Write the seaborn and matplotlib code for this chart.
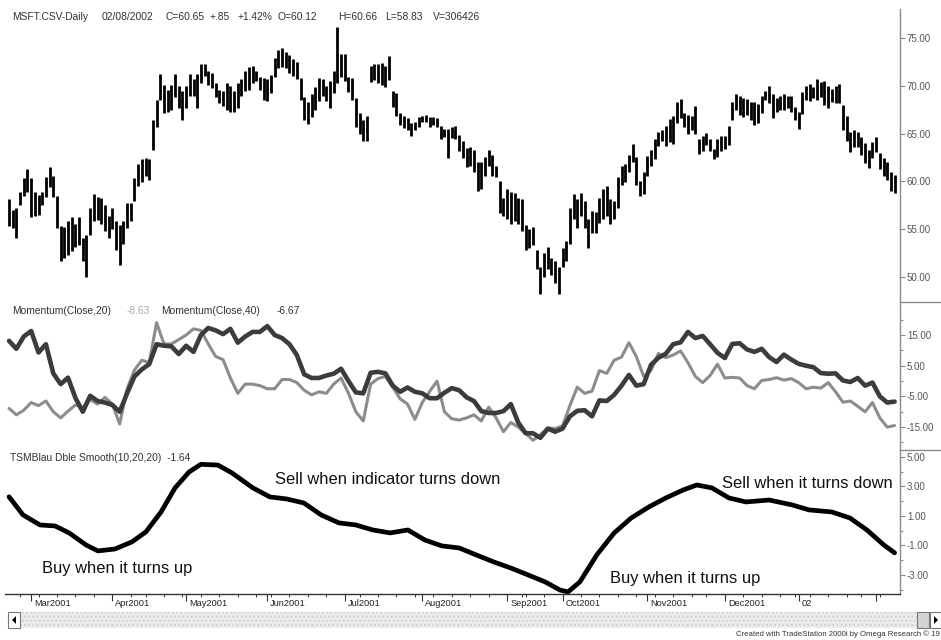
import numpy as np
import pandas as pd
import matplotlib
matplotlib.use("Agg")
import matplotlib.pyplot as plt
import seaborn as sns
from matplotlib import font_manager as fm
from matplotlib.lines import Line2D
from matplotlib.patches import Rectangle, Polygon
import matplotlib.transforms as mtransforms

sns.set_style("white")
names = {f.name for f in fm.fontManager.ttflist}
NARROW = "Liberation Sans Narrow" if "Liberation Sans Narrow" in names else "Liberation Sans"
HAS_NARROW = NARROW == "Liberation Sans Narrow"
plt.rcParams["font.family"] = ["Liberation Sans", "DejaVu Sans"]

# ---------------- data ----------------
start_date = "2001-02-21"
end_date = "2002-02-08"
holidays = ["2001-04-13", "2001-05-28", "2001-07-04", "2001-09-03", "2001-09-11",
            "2001-09-12", "2001-09-13", "2001-09-14", "2001-11-22", "2001-12-25",
            "2002-01-01", "2002-01-21"]

highs = [
    58.2, 57.0, 57.2, 58.9, 60.3, 61.3, 60.3, 58.9, 58.6, 58.9,
    60.5, 61.5, 60.6, 58.5, 55.3, 55.2, 55.8, 56.3, 55.5, 56.3,
    54.1, 54.4, 57.2, 58.7, 58.4, 58.3, 57.5, 56.4, 57.2, 55.8,
    55.4, 55.8, 57.7, 57.7, 60.3, 61.8, 62.3, 62.4, 62.3, 66.4,
    68.5, 71.3, 70.1, 69.6, 70.1, 71.3, 70.0, 69.5, 70.0, 71.3,
    70.7, 71.3, 72.3, 72.3, 71.6, 71.4, 70.3, 69.6, 69.5, 70.3,
    70.0, 69.5, 70.3, 70.7, 71.6, 72.0, 72.1, 71.6, 70.9, 70.8,
    70.7, 71.1, 72.9, 73.8, 74.0, 73.6, 73.2, 72.8, 72.5, 70.8,
    68.8, 68.3, 69.2, 69.9, 70.8, 70.7, 70.0, 70.5, 71.6, 76.2,
    73.4, 73.3, 70.9, 70.8, 68.7, 67.2, 66.4, 66.9, 72.1, 72.3,
    72.3, 72.4, 72.1, 73.1, 69.5, 69.3, 67.2, 66.9, 66.6, 66.1,
    66.2, 66.7, 66.9, 67.0, 66.7, 66.7, 66.6, 65.8, 65.5, 65.5,
    65.7, 65.8, 64.9, 64.2, 63.5, 63.6, 63.3, 62.0, 62.0, 62.6,
    63.3, 62.8, 61.6, 60.0, 58.3, 59.2, 58.9, 58.8, 58.3, 58.2,
    55.4, 55.0, 55.2, 52.8, 51.0, 52.5, 53.1, 52.0, 51.6, 51.0,
    53.0, 53.7, 57.2, 58.7, 58.2, 58.8, 57.9, 56.1, 56.9, 56.8,
    58.3, 59.2, 59.5, 58.2, 57.9, 60.5, 61.6, 61.8, 62.8, 63.9,
    62.6, 60.0, 61.0, 62.7, 63.3, 64.4, 65.2, 65.4, 65.8, 66.5,
    66.8, 68.3, 68.6, 67.2, 67.0, 66.9, 67.9, 64.4, 64.8, 65.1,
    64.4, 63.4, 64.4, 64.8, 64.8, 65.8, 68.3, 69.2, 68.9, 68.7,
    68.6, 68.3, 68.3, 68.1, 69.0, 69.5, 70.0, 69.2, 68.7, 68.9,
    69.2, 69.0, 68.9, 67.8, 67.3, 69.4, 70.0, 70.2, 69.9, 70.7,
    70.4, 70.5, 70.0, 69.7, 70.0, 70.2, 68.0, 66.8, 65.2, 65.4,
    65.2, 64.7, 64.0, 63.3, 64.1, 64.6, 63.0, 62.5, 62.0, 61.0,
    60.66,
]
lows = [
    55.3, 55.1, 54.1, 57.5, 58.5, 58.9, 56.3, 56.4, 56.5, 57.5,
    58.4, 59.4, 58.4, 55.1, 51.7, 52.0, 52.3, 52.7, 53.1, 53.3,
    51.7, 50.0, 54.4, 55.8, 55.9, 55.5, 54.8, 54.1, 55.0, 52.8,
    51.2, 53.4, 55.1, 55.8, 57.9, 59.5, 59.9, 60.6, 60.1, 63.3,
    65.7, 68.5, 67.2, 67.3, 67.5, 68.8, 67.7, 66.4, 67.7, 69.0,
    69.0, 67.7, 70.3, 71.0, 70.1, 69.8, 68.8, 68.2, 67.9, 67.5,
    67.3, 67.3, 67.7, 69.0, 69.5, 69.6, 70.3, 70.5, 69.6, 68.5,
    68.4, 69.3, 70.9, 71.9, 72.0, 71.9, 71.4, 71.0, 70.7, 68.5,
    66.4, 66.0, 66.7, 67.5, 68.4, 69.0, 68.4, 67.7, 69.3, 70.3,
    70.9, 70.5, 69.4, 68.5, 65.7, 65.0, 64.2, 64.2, 70.4, 70.6,
    70.3, 70.1, 69.9, 70.6, 67.8, 66.8, 65.9, 65.6, 65.4, 64.8,
    65.4, 65.7, 66.2, 66.2, 65.7, 65.9, 65.7, 64.4, 64.7, 62.4,
    64.5, 64.4, 63.2, 62.4, 61.5, 61.6, 61.0, 59.0, 59.2, 60.6,
    61.6, 60.6, 60.5, 56.7, 56.4, 56.1, 55.5, 55.8, 55.5, 54.8,
    52.8, 53.0, 53.3, 50.8, 48.2, 50.0, 50.8, 50.2, 49.3, 48.2,
    51.0, 51.6, 53.4, 56.1, 55.1, 56.4, 55.1, 53.0, 54.6, 54.6,
    55.6, 56.1, 56.4, 55.5, 56.1, 57.2, 59.6, 59.9, 61.0, 62.0,
    59.6, 58.5, 58.7, 60.6, 61.6, 62.3, 63.7, 64.2, 63.7, 64.1,
    63.9, 66.1, 66.6, 65.7, 65.0, 65.4, 65.0, 62.9, 63.2, 63.8,
    63.2, 62.3, 62.6, 63.2, 63.4, 63.8, 66.4, 67.5, 67.0, 66.7,
    67.0, 66.4, 65.9, 66.1, 67.2, 68.5, 68.2, 66.6, 67.3, 67.5,
    67.5, 67.7, 67.3, 66.4, 65.5, 67.1, 68.5, 68.4, 68.7, 68.5,
    68.8, 68.0, 67.7, 68.3, 68.2, 68.2, 65.4, 64.2, 63.1, 63.6,
    63.6, 62.8, 61.9, 61.4, 62.4, 63.1, 61.3, 60.6, 60.1, 59.0,
    58.83,
]

# momentum readings, every second trading day (bar 0, 2, 4, ... 240)
mom_bars = list(range(0, 241, 2))
mom20 = [
    -8.9, -11.0, -9.5, -7.0, -8.0, -6.5, -10.0, -12.0, -9.8, -7.8,
    -8.5, -6.0, -7.5, -5.3, -7.5, -14.0, -2.5, 3.6, 6.8, 6.0,
    19.0, 12.1, 12.1, 13.5, 15.0, 17.0, 16.5, 12.1, 8.0, 7.0,
    1.0, -4.0, -1.0, -1.0, -1.5, -2.5, -2.5, 0.5, 0.5, -0.5,
    -3.0, -4.5, -3.5, -4.0, -1.0, 1.0, -4.0, -10.0, -13.0, -1.0,
    0.8, 1.5, -2.0, -5.8, -7.5, -12.5, -7.0, -3.4, 0.0, -10.0,
    -12.3, -12.7, -12.0, -11.0, -13.0, -8.5, -12.0, -16.5, -13.5, -15.0,
    -17.0, -19.3, -17.5, -15.3, -15.5, -14.6, -8.0, -2.0, -4.0, -3.3,
    3.4, 2.5, 6.8, 7.8, 12.5, 8.0, 1.5, 3.5, 9.0, 7.6,
    8.5, 9.8, 6.0, 1.5, -0.5, 1.8, 5.5, 1.0, 1.2, 1.0,
    -1.5, -2.5, 0.2, 0.5, 1.1, 0.3, 0.8, -0.5, -2.5, -2.0,
    -2.3, -0.5, -3.5, -6.9, -6.5, -8.2, -10.0, -7.0, -12.0, -15.0,
    -14.5,
]
mom40 = [
    13.1, 10.5, 14.5, 16.3, 9.3, 12.0, 2.5, -1.0, 1.1, -5.5,
    -10.0, -4.8, -6.5, -7.0, -7.8, -10.0, -4.0, 1.5, 3.8, 5.5,
    12.0, 11.5, 11.3, 8.8, 11.5, 9.5, 15.0, 17.3, 16.5, 15.3,
    17.0, 12.5, 14.5, 16.0, 16.0, 17.9, 15.0, 14.0, 12.0, 8.5,
    2.2, 1.0, 1.0, 1.8, 2.4, 4.0, 0.0, -3.7, -4.0, 2.7,
    3.0, 2.5, -1.5, -3.5, -2.1, -3.5, -4.0, -5.6, -5.6, -3.8,
    -2.3, -3.0, -5.3, -6.5, -9.8, -10.4, -10.4, -9.8, -7.5, -13.5,
    -17.0, -17.0, -18.5, -15.5, -16.5, -15.5, -11.5, -9.7, -9.5, -11.5,
    -6.3, -6.5, -4.5, -1.5, 2.0, -1.5, -1.0, 5.3, 7.6, 8.9,
    12.0, 12.6, 16.0, 14.0, 14.7, 12.0, 9.2, 7.5, 12.1, 12.3,
    10.3, 9.5, 10.5, 7.8, 6.2, 8.6, 7.0, 5.6, 5.0, 4.5,
    2.6, 2.4, 2.5, 0.2, -0.3, 1.0, -1.5, -0.5, -5.0, -7.0,
    -6.7,
]

# TSM Blau double smoothed indicator readings (trading-day position, value)
ind_bars = [0, 3.8, 8.4, 12.5, 16.3, 20.9, 24.1, 28.7, 33.3, 37.1,
            41.2, 45.0, 48.8, 52.0, 56.6, 60.4, 66.1, 70.7, 75.3, 79.9,
            84.6, 89.4, 94.0, 98.6, 103.3, 108.1, 112.7, 117.3, 122.0, 126.6,
            131.4, 136.0, 140.7, 145.3, 149.3, 151.5, 154.7, 159.3, 164.0, 168.6,
            173.4, 178.0, 182.7, 186.4, 190.5, 195.1, 199.7, 206.0, 212.2, 216.8,
            223.0, 227.9, 232.5, 237.1, 240]
ind_vals = [2.3, 1.07, 0.39, 0.32, -0.15, -0.97, -1.37, -1.24, -0.76, -0.08,
            1.27, 2.9, 3.98, 4.5, 4.45, 3.92, 2.9, 2.29, 2.15, 1.88,
            1.07, 0.53, 0.39, 0.05, -0.15, 0.05, -0.63, -1.03, -1.17, -1.64,
            -2.12, -2.53, -3.0, -3.47, -4.02, -4.15, -3.47, -1.64, -0.15, 0.86,
            1.61, 2.22, 2.76, 3.1, 2.9, 2.22, 1.95, 2.08, 1.75, 1.41,
            1.27, 0.86, 0.05, -0.97, -1.5]

month_labels = ["Mar2001", "Apr2001", "May2001", "Jun2001", "Jul2001", "Aug2001",
                "Sep2001", "Oct2001", "Nov2001", "Dec2001", "02", ""]
price_ticks = [50, 55, 60, 65, 70, 75]
mom_ticks = [15, 5, -5, -15]
mom_minor = [20, 10, 0, -10, -20]
ind_ticks = [5, 3, 1, -1, -3]
ind_minor = [4, 2, 0, -2, -4]

header_price = [("MSFT.CSV-Daily", 12), ("02/08/2002", 102), ("C=60.65", 165), ("+.85", 209),
                ("+1.42%", 237), ("O=60.12", 277), ("H=60.66", 338), ("L=58.83", 385),
                ("V=306426", 433)]

# ---------------- layout helpers ----------------
W, H = 941, 640
fig = plt.figure(figsize=(W / 100, H / 100), dpi=100)
fig.patch.set_facecolor("white")


def fx(px):
    return px / W


def fy(py):
    return 1 - py / H


LPX, RPX = 5, 900
X0, PX_PER_BAR = 9, 3.69
xlim = ((LPX - X0) / PX_PER_BAR, (RPX - X0) / PX_PER_BAR)

HEAD_FS = 7.4
ANN_FS = 14.0 if HAS_NARROW else 11.9
DATE_FS = 7.6 if HAS_NARROW else 6.7
CRED_FS = 6.8 if HAS_NARROW else 5.6


def make_ax(top, bottom):
    ax = fig.add_axes([fx(LPX), fy(bottom), fx(RPX) - fx(LPX), (bottom - top) / H])
    ax.set_facecolor("white")
    for s in ["top", "left", "bottom"]:
        ax.spines[s].set_visible(False)
    ax.spines["right"].set_color("#8a8a8a")
    ax.spines["right"].set_linewidth(1.0)
    ax.yaxis.tick_right()
    ax.tick_params(axis="y", which="major", direction="out", length=3.5, width=0.8,
                   colors="#8a8a8a", labelcolor="#555555", labelsize=7, pad=1.5)
    ax.tick_params(axis="y", which="minor", direction="out", length=2.5, width=0.8,
                   colors="#8a8a8a")
    ax.tick_params(axis="x", which="both", bottom=False, labelbottom=False)
    ax.set_xlim(*xlim)
    ax.grid(False)
    return ax


dates = pd.bdate_range(start_date, end_date, freq="C", holidays=holidays)
n = min(len(dates), len(highs), len(lows))
bars = np.arange(n)

# ---------------- price panel ----------------
axp = make_ax(9, 302)
axp.vlines(bars, np.array(lows[:n]), np.array(highs[:n]), color="black", linewidth=2.0)
axp.set_ylim(47.35, 78.07)
axp.set_yticks(price_ticks)
axp.set_yticklabels([f"{t:.2f}" for t in price_ticks])

# ---------------- momentum panel ----------------
axm = make_ax(302, 450)
sns.lineplot(x=mom_bars, y=mom20, ax=axm, color="#8c8c8c", linewidth=2.2,
             solid_joinstyle="round", solid_capstyle="round")
sns.lineplot(x=mom_bars, y=mom40, ax=axm, color="#3c3c3c", linewidth=3.3,
             solid_joinstyle="round", solid_capstyle="round")
axm.set_xlim(*xlim)
axm.set_ylim(-22.46, 25.75)
axm.set_yticks(mom_ticks)
axm.set_yticklabels([f"{t:.2f}" for t in mom_ticks])
axm.set_yticks(mom_minor, minor=True)
axm.set_xlabel("")
axm.set_ylabel("")

# ---------------- indicator panel ----------------
axi = make_ax(450, 594)
sns.lineplot(x=ind_bars, y=ind_vals, ax=axi, color="black", linewidth=3.4,
             solid_joinstyle="round", solid_capstyle="round")
axi.set_xlim(*xlim)
axi.set_ylim(-4.29, 5.47)
axi.set_yticks(ind_ticks)
axi.set_yticklabels([f"{t:.2f}" for t in ind_ticks])
axi.set_yticks(ind_minor, minor=True)
axi.set_xlabel("")
axi.set_ylabel("")
axi.spines["bottom"].set_visible(True)
axi.spines["bottom"].set_color("#333333")
axi.spines["bottom"].set_linewidth(1.0)

# date axis
dser = pd.Series(dates[:n])
month_start = [i for i in range(1, n) if dser[i].month != dser[i - 1].month]
week_start = [i for i in range(1, n) if dser[i].isocalendar()[1] != dser[i - 1].isocalendar()[1]]
axi.set_xticks(month_start)
axi.set_xticks(week_start, minor=True)
axi.tick_params(axis="x", which="major", bottom=True, direction="out", length=5,
                width=0.8, colors="#333333", labelbottom=False)
axi.tick_params(axis="x", which="minor", bottom=True, direction="out", length=2.2,
                width=0.7, colors="#333333")
lab_trans = mtransforms.blended_transform_factory(axi.transData, axi.transAxes) + \
    mtransforms.ScaledTranslation(3 / 100, -10 / 100, fig.dpi_scale_trans)
for m, lab in zip(month_start, month_labels):
    if lab:
        axi.text(m, 0, lab, transform=lab_trans, ha="left", va="center",
                 fontsize=DATE_FS, family=[NARROW, "DejaVu Sans"], color="#222222")

# panel separators on the scale side
for py in (302, 450):
    fig.add_artist(Line2D([fx(RPX), 1], [fy(py), fy(py)], color="#8a8a8a", linewidth=1.0))

# ---------------- texts ----------------
for txt, px in header_price:
    fig.text(fx(px), fy(17), txt, fontsize=HEAD_FS, color="#333333", va="center", ha="left")

fig.text(fx(12), fy(311), "Momentum(Close,20)", fontsize=HEAD_FS, color="#333333", va="center")
fig.text(fx(127), fy(311), "-8.63", fontsize=HEAD_FS, color="#aaaaaa", va="center")
fig.text(fx(161), fy(311), "Momentum(Close,40)", fontsize=HEAD_FS, color="#333333", va="center")
fig.text(fx(277), fy(311), "-6.67", fontsize=HEAD_FS, color="#333333", va="center")

fig.text(fx(10), fy(458), "TSMBlau Dble Smooth(10,20,20)  -1.64", fontsize=HEAD_FS,
         color="#333333", va="center")

ann = [("Sell when indicator turns down", 275, 480),
       ("Buy when it turns up", 42, 569),
       ("Buy when it turns up", 610, 578),
       ("Sell when it turns down", 722, 483)]
for txt, px, py in ann:
    fig.text(fx(px), fy(py), txt, fontsize=ANN_FS, family=[NARROW, "DejaVu Sans"],
             color="#111111", va="center", ha="left")

# ---------------- scrollbar ----------------
fig.add_artist(Rectangle((fx(20), fy(628)), fx(917) - fx(20), (628 - 612) / H,
                         facecolor="#ececec", edgecolor="#d0d0d0", hatch="....",
                         linewidth=0.0, transform=fig.transFigure))
fig.add_artist(Rectangle((fx(8), fy(628)), fx(20) - fx(8), (628 - 612) / H,
                         facecolor="white", edgecolor="#777777", linewidth=0.8,
                         transform=fig.transFigure))
fig.add_artist(Polygon([[fx(12), fy(620)], [fx(16), fy(616)], [fx(16), fy(624)]],
                       closed=True, facecolor="black", edgecolor="none",
                       transform=fig.transFigure))
fig.add_artist(Rectangle((fx(917), fy(628)), fx(929) - fx(917), (628 - 612) / H,
                         facecolor="#d4d4d4", edgecolor="#777777", linewidth=0.8,
                         transform=fig.transFigure))
fig.add_artist(Rectangle((fx(930), fy(628)), fx(941) - fx(930), (628 - 612) / H,
                         facecolor="white", edgecolor="#777777", linewidth=0.8,
                         transform=fig.transFigure))
fig.add_artist(Polygon([[fx(938), fy(620)], [fx(934), fy(616)], [fx(934), fy(624)]],
                       closed=True, facecolor="black", edgecolor="none",
                       transform=fig.transFigure))

fig.text(fx(940), fy(634), "Created with TradeStation 2000i by Omega Research \u00a9 19",
         fontsize=CRED_FS, family=[NARROW, "DejaVu Sans"], color="#333333",
         ha="right", va="center")

fig.savefig("out.png", dpi=100, facecolor="white")
